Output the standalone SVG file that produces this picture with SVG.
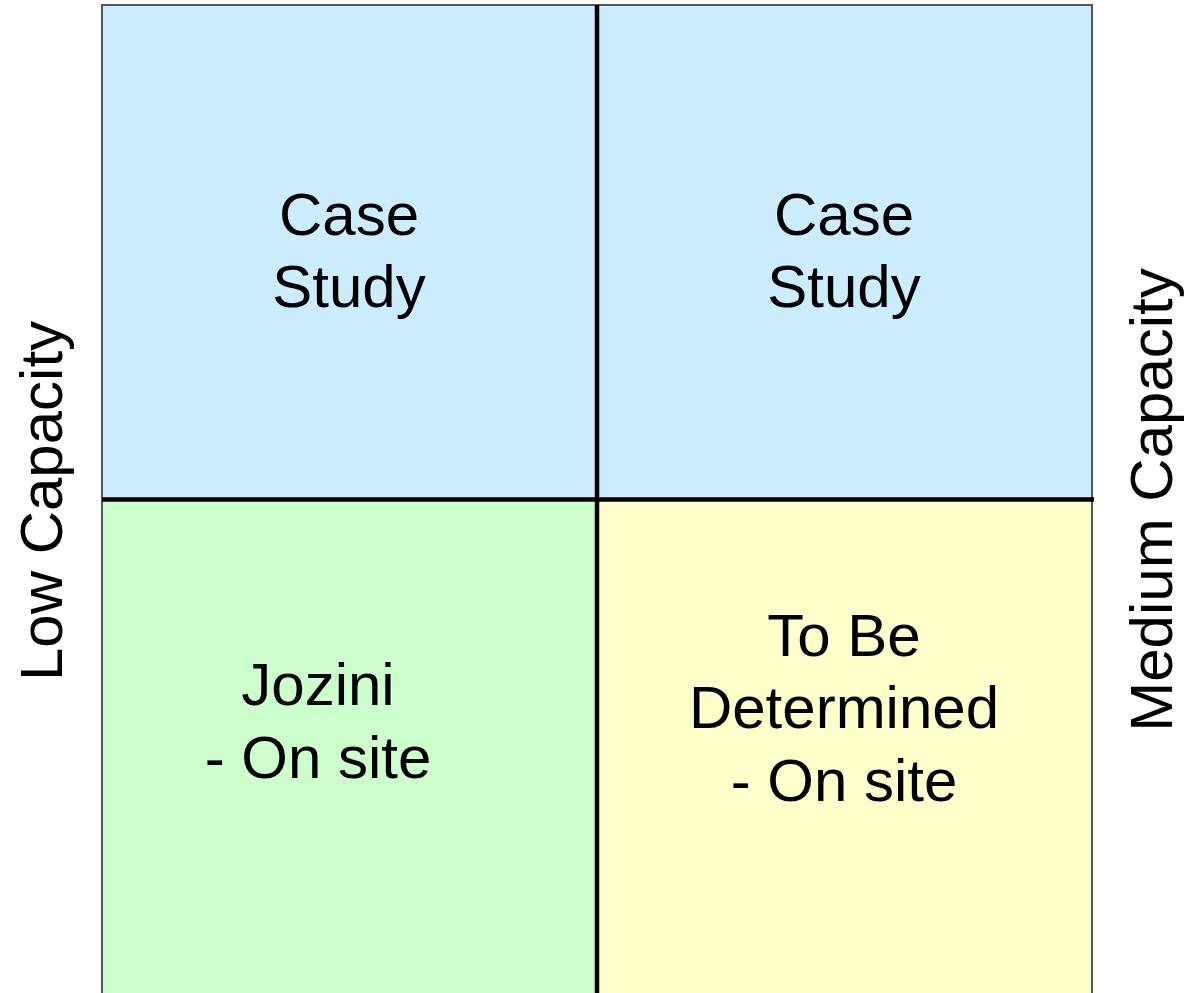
<svg xmlns="http://www.w3.org/2000/svg" width="1186" height="993" viewBox="0 0 1186 993">
<style>
text{font-family:"Liberation Sans",Arial,sans-serif;font-size:60px;fill:#000;text-anchor:middle}
.q{stroke:none}
.div{stroke:#000;stroke-width:4.5;fill:none}
</style>
<rect x="0" y="0" width="1186" height="993" fill="#fff"/>
<g id="q-top-left"><rect class="q" x="102" y="5" width="495" height="494" fill="#CCECFF"/>
<text x="349" y="235">Case</text><text x="349" y="307">Study</text></g>
<g id="q-top-right"><rect class="q" x="597" y="5" width="495" height="494" fill="#CCECFF"/>
<text x="844" y="235">Case</text><text x="844" y="307">Study</text></g>
<g id="q-bottom-left"><rect class="q" x="102" y="499" width="495" height="494" fill="#CCFFCC"/>
<text x="318" y="705">Jozini</text><text x="318" y="778">- On site</text></g>
<g id="q-bottom-right"><rect class="q" x="597" y="499" width="495" height="494" fill="#FFFFCC"/>
<text x="844" y="656">To Be</text><text x="844" y="728">Determined</text><text x="844" y="801">- On site</text></g>
<g id="frame"><rect x="102" y="5" width="990" height="1000" fill="none" stroke="#4d5a66" stroke-width="2"/></g>
<g id="connectors">
<line class="div" x1="597" y1="5" x2="597" y2="993"/>
<line class="div" x1="102" y1="499.5" x2="1094" y2="499.5"/>
</g>
<g id="label-left"><text transform="translate(62,501) rotate(-90)">Low Capacity</text></g>
<g id="label-right"><text transform="translate(1172,500) rotate(-90)">Medium Capacity</text></g>
</svg>
